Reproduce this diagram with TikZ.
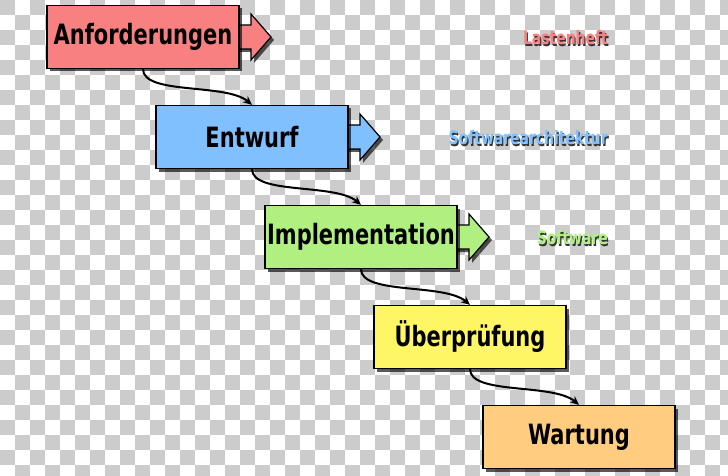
\documentclass[tikz,border=0pt]{standalone}
\usepackage{fontspec}
\usepackage{graphicx}
\newfontfamily\condfont{DejaVu Sans Condensed Bold}
\usetikzlibrary{shadows,arrows.meta,calc}
\definecolor{cred}{HTML}{F88080}
\definecolor{cblue}{HTML}{80C0FF}
\definecolor{cgreen}{HTML}{B0F080}
\definecolor{cyellow}{HTML}{FFF666}
\definecolor{corange}{HTML}{FFCC80}
\definecolor{checkgray}{HTML}{CCCCCC}
\newcommand{\tallbox}[1]{\scalebox{1}[1.2]{#1}}
\tikzset{
  phase/.style={draw=black, line width=1.2pt, minimum width=192pt, minimum height=63pt,
    inner sep=0pt, font=\condfont\fontsize{23.3}{25}\selectfont,
    drop shadow={shadow xshift=3pt, shadow yshift=-3pt, opacity=0.65, fill=black}},
  outarrow/.style={draw=black, line width=1.2pt,
    drop shadow={shadow xshift=3pt, shadow yshift=-3pt, opacity=0.65, fill=black}},
  flow/.style={line width=2pt, -{Stealth[length=9pt,width=8pt]}},
  result/.style={anchor=east, inner sep=0pt, font=\condfont\fontsize{15.5}{17}\selectfont},
}
\begin{document}
\begin{tikzpicture}[x=1pt,y=-1pt]
\useasboundingbox (0,0) rectangle (728,476);
\begin{scope}
\clip (0,0) rectangle (728,476);
\fill[white] (0,0) rectangle (728,476);
\foreach \i in {0,...,48}{\foreach \j in {0,...,31}{%
  \pgfmathtruncatemacro\s{mod(\i+\j,2)}%
  \ifnum\s=0 \fill[checkgray] (\i*15,\j*15) rectangle ++(15,15);\fi}}
\end{scope}
% right arrows (drawn first, boxes cover their roots)
\coordinate (a1) at (239,37);
\coordinate (a2) at (348,137);
\coordinate (a3) at (457,237);
\foreach \c/\col in {a1/cred,a2/cblue,a3/cgreen}{
  \draw[outarrow, fill=\col] ($(\c)+(-4,-12)$) -- ++(16,0) -- ++(0,-11) -- ++(20,23) -- ++(-20,23) -- ++(0,-11) -- ++(-16,0) -- cycle;
}
\node[phase, fill=cred] (b1) at (143,37) {\tallbox{Anforderungen}};
\node[phase, fill=cblue] (b2) at (252,137) {\tallbox{Entwurf}};
\node[phase, fill=cgreen] (b3) at (361,237) {\tallbox{Implementation}};
\node[phase, fill=cyellow] (b4) at (470,337) {\tallbox{Überprüfung}};
\node[phase, fill=corange] (b5) at (579,437) {\tallbox{Wartung}};
\foreach \p/\q in {b1/b2,b2/b3,b3/b4,b4/b5}{
  \draw[flow] (\p.south) .. controls +(0,26) and +(-26,-22) .. (\q.north);
}
% result labels
\foreach \y/\txt/\col in {38/Lastenheft/cred,138/Softwarearchitektur/cblue,238/Software/cgreen}{
  \node[result, text=black!80] (s\y) at (609.2,\y+1.2) {\tallbox{\txt}};
  \node[result, text=\col] (t\y) at (608,\y) {\tallbox{\txt}};
}
\end{tikzpicture}
\end{document}
